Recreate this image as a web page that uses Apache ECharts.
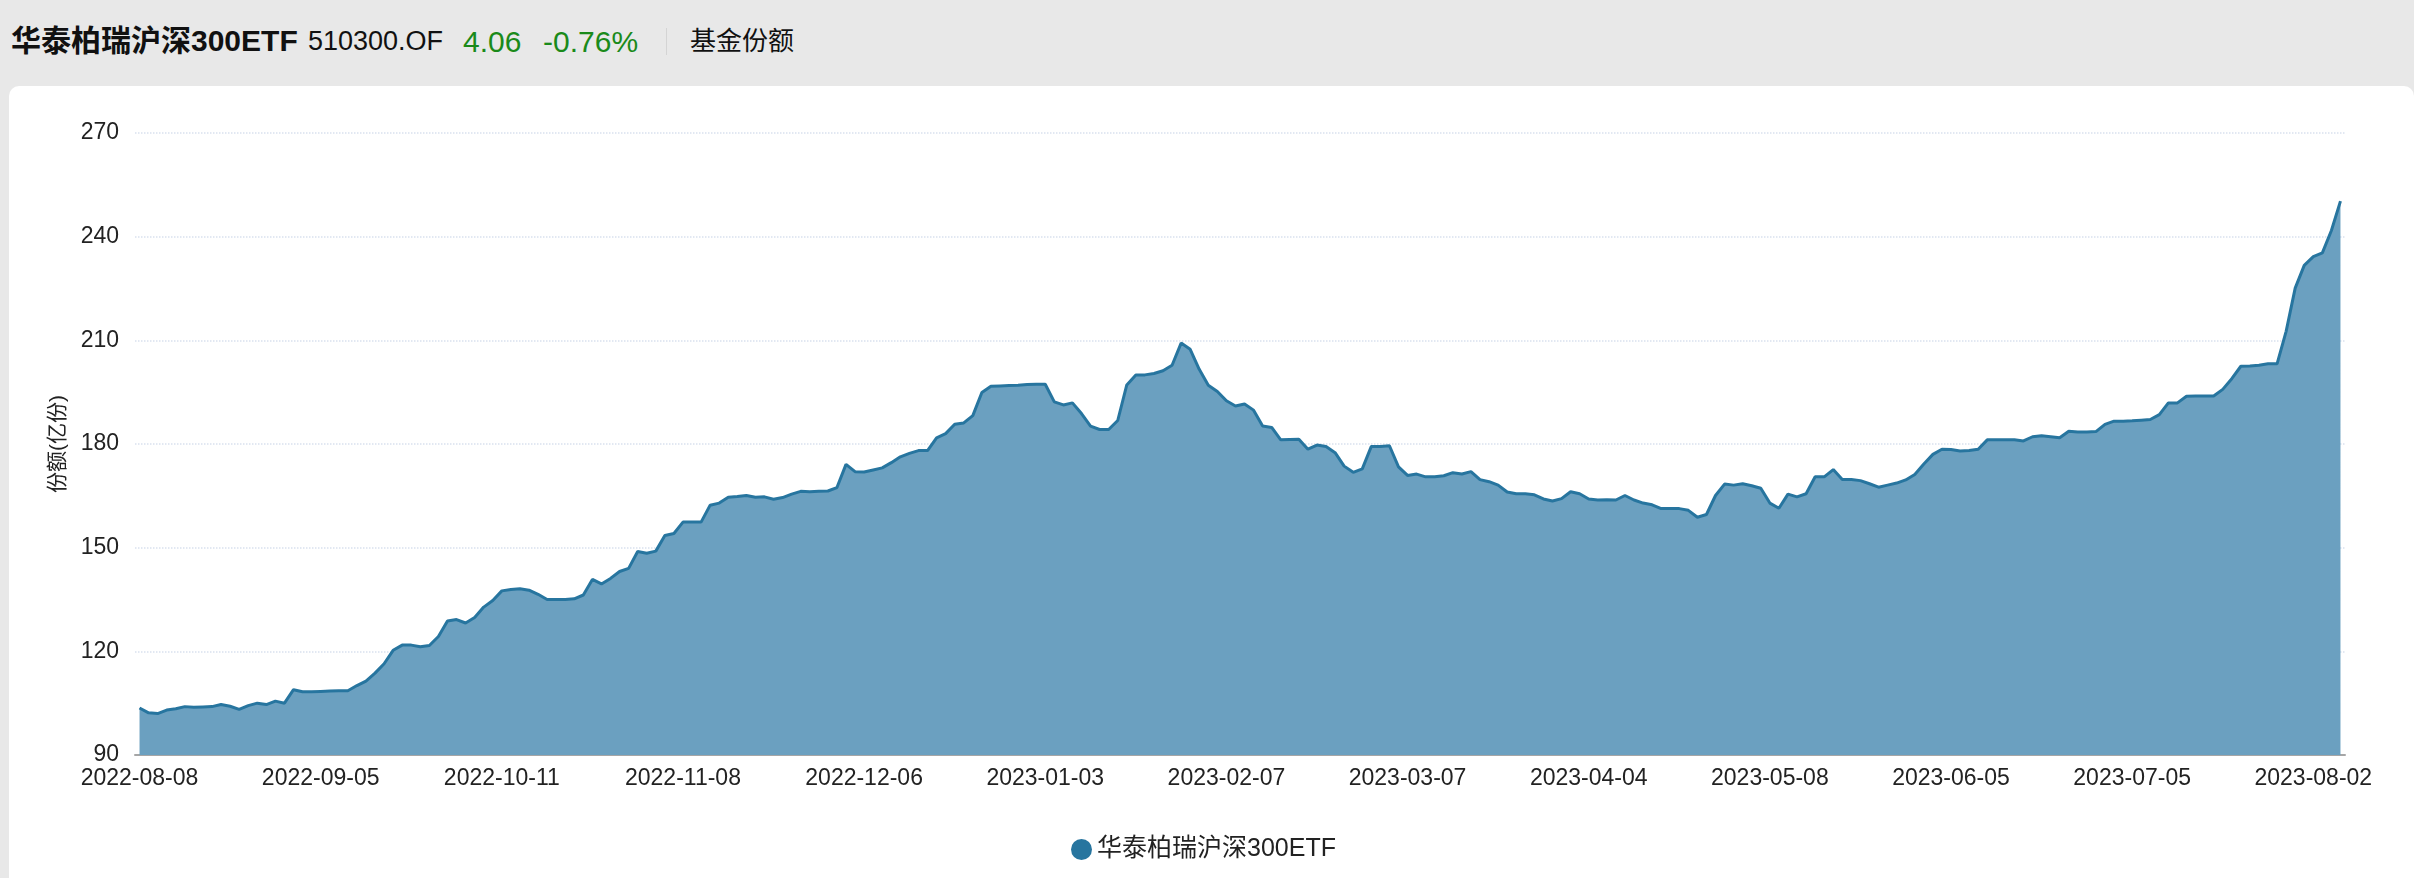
<!DOCTYPE html>
<html><head><meta charset="utf-8">
<script src="https://cdn.jsdelivr.net/npm/echarts@6/dist/echarts.min.js"></script>
<style>
html,body{margin:0;padding:0;width:2414px;height:878px;background:#e8e8e8;overflow:hidden;font-family:'Liberation Sans','Noto Sans CJK SC',sans-serif;}
.h{position:absolute;white-space:nowrap;line-height:1;}
#sep{position:absolute;left:666px;top:28px;width:1px;height:27px;background:#d4d4d4;}
#chart{position:absolute;left:9px;top:86px;width:2405px;height:792px;background:#fff;border-radius:10px 10px 0 0;}
</style></head><body>
<span class="h" style="left:11px;top:26px;font-size:30px;font-weight:bold;color:#111;">华泰柏瑞沪深300ETF</span>
<span class="h" style="left:308px;top:28px;font-size:27px;color:#111;">510300.OF</span>
<span class="h" style="left:463px;top:27px;font-size:30px;color:#1a8a1a;">4.06</span>
<span class="h" style="left:543px;top:27px;font-size:30px;color:#1a8a1a;">-0.76%</span>
<div id="sep"></div>
<span class="h" style="left:690px;top:28px;font-size:26px;color:#111;">基金份额</span>
<div id="chart"></div>
<script>
const seriesName = '华泰柏瑞沪深300ETF';
const yAxisName = '份额(亿份)';
const months = ['2022-08','2022-09','2022-10','2022-11','2022-12','2023-01','2023-02','2023-03','2023-04','2023-05','2023-06','2023-07','2023-08'];
const monthDays = [
  [8,9,10,11,12,15,16,17,18,19,22,23,24,25,26,29,30,31],
  [1,2,5,6,7,8,9,13,14,15,16,19,20,21,22,23,26,27,28,29,30],
  [10,11,12,13,14,17,18,19,20,21,24,25,26,27,28,31],
  [1,2,3,4,7,8,9,10,11,14,15,16,17,18,21,22,23,24,25,28,29,30],
  [1,2,5,6,7,8,9,12,13,14,15,16,19,20,21,22,23,26,27,28,29,30],
  [2,3,4,5,6,9,10,11,12,13,16,17,18,19,20,30,31],
  [1,2,3,6,7,8,9,10,13,14,15,16,17,20,21,22,23,24,27,28],
  [1,2,3,6,7,8,9,10,13,14,15,16,17,20,21,22,23,24,27,28,29,30,31],
  [3,4,6,7,10,11,12,13,14,17,18,19,20,21,24,25,26,27,28],
  [4,5,8,9,10,11,12,15,16,17,18,19,22,23,24,25,26,29,30,31],
  [1,2,5,6,7,8,9,12,13,14,15,16,19,20,21,26,27,28,29,30],
  [3,4,5,6,7,10,11,12,13,14,17,18,19,20,21,24,25,26,27,28,31],
  [1,2,3,4,7]
];
const shares = [
  103.6,102.2,102.0,103.0,103.4,104.0,103.8,103.9,104.0,104.6,
  104.1,103.2,104.3,105.0,104.6,105.6,105.0,108.9,108.3,108.3,
  108.4,108.5,108.6,108.6,110.1,111.4,113.7,116.4,120.3,121.8,
  121.8,121.3,121.7,124.3,128.8,129.2,128.2,129.8,132.8,134.7,
  137.5,137.9,138.1,137.7,136.5,135.0,135.0,135.0,135.2,136.3,
  140.8,139.5,141.1,143.1,144.0,148.9,148.4,149.0,153.5,154.1,
  157.4,157.4,157.4,162.3,162.9,164.6,164.8,165.1,164.6,164.7,
  164.0,164.5,165.5,166.3,166.2,166.3,166.4,167.4,174.1,172.0,
  171.9,172.5,173.1,174.6,176.3,177.3,178.1,178.1,181.8,183.0,
  185.7,186.1,188.2,194.9,196.7,196.8,196.9,197.0,197.2,197.3,
  197.3,192.2,191.3,191.9,188.8,185.2,184.2,184.2,186.8,197.1,
  200.0,200.0,200.4,201.2,202.8,209.2,207.4,201.6,197.0,195.2,
  192.5,191.0,191.6,189.8,185.2,184.8,181.2,181.3,181.4,178.5,
  179.7,179.3,177.5,173.6,171.8,172.8,179.3,179.3,179.5,173.4,
  170.9,171.3,170.5,170.5,170.8,171.7,171.3,172.0,169.7,169.1,
  168.1,166.1,165.6,165.6,165.3,164.1,163.5,164.2,166.2,165.6,
  164.1,163.8,163.9,163.8,165.1,163.8,162.9,162.4,161.3,161.3,
  161.3,160.8,158.8,159.6,165.1,168.4,168.1,168.5,167.9,167.2,
  162.9,161.4,165.5,164.7,165.6,170.5,170.5,172.6,169.7,169.7,
  169.4,168.5,167.5,168.1,168.7,169.6,171.2,174.2,177.0,178.5,
  178.4,178.0,178.1,178.5,181.2,181.2,181.2,181.2,180.9,182.1,
  182.4,182.1,181.8,183.7,183.5,183.5,183.6,185.7,186.6,186.6,
  186.7,186.9,187.1,188.5,191.9,191.9,193.8,193.9,193.9,193.9,
  195.8,198.9,202.5,202.6,202.8,203.2,203.2,212.6,225.1,231.7,
  234.2,235.3,241.8,250.3
];
const yMin = 90, yMax = 270, yStep = 30;

const dates = [];
months.forEach((m, k) => monthDays[k].forEach(d => dates.push(m + '-' + String(d).padStart(2, '0'))));

const FONT = "'Liberation Sans','Noto Sans CJK SC',sans-serif";
const chart = echarts.init(document.getElementById('chart'), null, {renderer: 'canvas'});
chart.setOption({
  animation: false,
  textStyle: {fontFamily: FONT},
  grid: {left: 126, right: 69, top: 47, bottom: 123},
  legend: {
    data: [seriesName], left: 1057, top: 746, icon: 'circle',
    itemWidth: 21, itemHeight: 21, itemGap: 10,
    textStyle: {fontSize: 25, color: '#222', fontFamily: FONT}
  },
  xAxis: {
    type: 'category', data: dates, boundaryGap: true,
    axisLine: {lineStyle: {color: '#a6a6a6', width: 2}},
    axisTick: {interval: 19, length: 7, lineStyle: {color: '#a6a6a6', width: 2}},
    axisLabel: {interval: 19, fontSize: 23, color: '#222', margin: 12, fontFamily: FONT},
    splitLine: {show: false}
  },
  yAxis: {
    type: 'value', min: yMin, max: yMax, interval: yStep,
    name: yAxisName, nameLocation: 'middle', nameGap: 66, nameRotate: 90,
    nameTextStyle: {fontSize: 21, color: '#222', fontFamily: FONT},
    axisLine: {show: false}, axisTick: {show: false},
    axisLabel: {fontSize: 23, color: '#222', margin: 16, fontFamily: FONT},
    splitLine: {lineStyle: {type: 'dotted', color: '#d9e1ee', width: 1.5}}
  },
  series: [{
    name: seriesName, type: 'line', data: shares,
    symbol: 'none', smooth: false,
    lineStyle: {color: '#27759f', width: 3},
    itemStyle: {color: '#27759f'},
    areaStyle: {color: '#6ba0c0', opacity: 1}
  }]
});
</script>
</body></html>
